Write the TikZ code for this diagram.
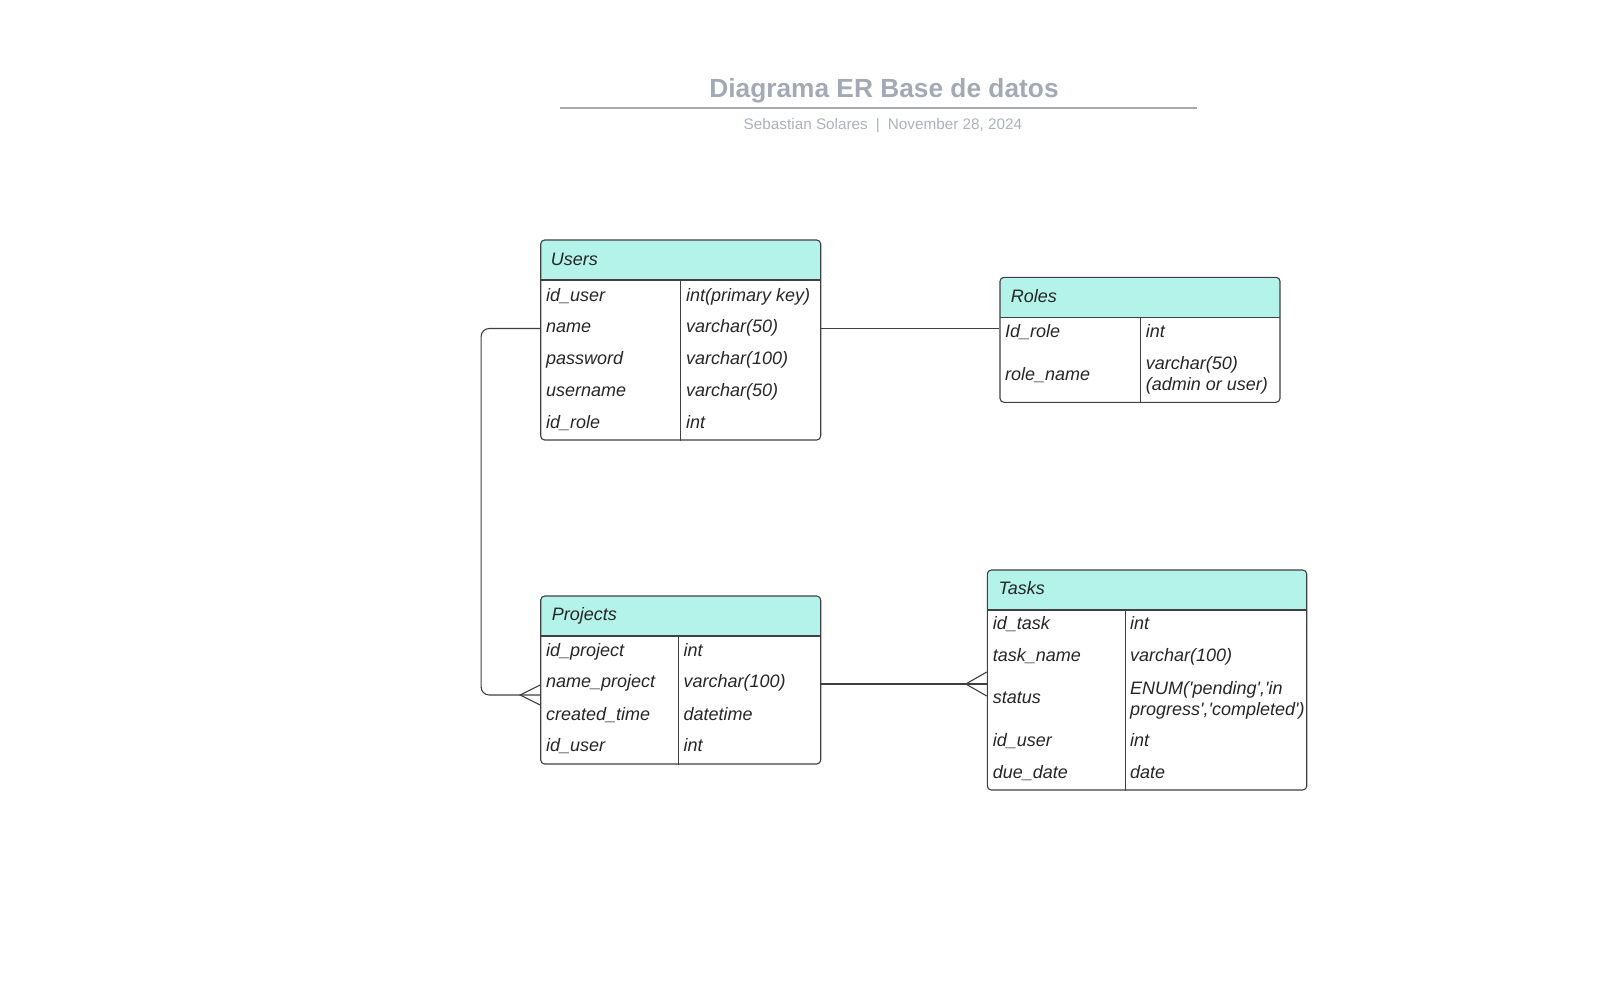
\documentclass[tikz,border=0pt]{standalone}
\usepackage{fontspec}
\setmainfont{Liberation Sans}
\newcommand{\apos}{\textquotesingle}
\definecolor{menta}{RGB}{180,243,234}
\definecolor{borde}{RGB}{64,64,64}
\definecolor{gristitulo}{RGB}{163,170,181}
\definecolor{texto}{RGB}{38,38,38}

\begin{document}
\begin{tikzpicture}[x=1pt, y=-1pt,
    tabla/.style={draw=borde, line width=1.1pt, rounded corners=4pt, inner sep=0pt,
      path picture={
        \fill[menta, sharp corners] (path picture bounding box.north west) rectangle ([yshift=-40pt]path picture bounding box.north east);
        \draw[borde, line width=1.1pt, sharp corners] ([yshift=-40pt]path picture bounding box.north west) -- ([yshift=-40pt]path picture bounding box.north east);}},
    letra/.style={inner sep=0pt, text=texto, align=left, font=\fontsize{18}{21.3}\selectfont\itshape},
    campo/.style={letra, anchor=mid west, yshift=-3.5pt},
    campo2/.style={letra, anchor=west},
    conector/.style={draw=borde, line width=1.1pt}]

  \useasboundingbox (0,0) rectangle (1622,1002);

  % Titulo
  \node[anchor=base, text=gristitulo, font=\fontsize{26.3}{30}\selectfont\bfseries] (titulo) at (884,97.5) {Diagrama ER Base de datos};
  \draw[gristitulo, line width=2pt] (560,108.3) -- (1196.7,108.3);
  \node[anchor=base, text=gristitulo!90!white, font=\fontsize{15.3}{18}\selectfont] (autor) at (883,129.5) {Sebastian Solares\hspace{8pt}|\hspace{8pt}November 28, 2024};

  % Tablas
  \node[tabla, minimum width=280pt, minimum height=200pt] (users) at (680.7,340) {};
  \node[tabla, minimum width=280pt, minimum height=125pt] (roles) at (1140,339.8) {};
  \node[tabla, minimum width=280pt, minimum height=168pt] (projects) at (680.7,680) {};
  \node[tabla, minimum width=319.4pt, minimum height=220pt] (tasks) at (1147,680) {};

  % Columnas
  \draw[conector] ([xshift=140pt,yshift=-40pt]users.north west) -- ([xshift=140pt]users.south west);
  \draw[conector] ([xshift=140.7pt,yshift=-40pt]roles.north west) -- ([xshift=140.7pt]roles.south west);
  \draw[conector] ([xshift=138pt,yshift=-40pt]projects.north west) -- ([xshift=138pt]projects.south west);
  \draw[conector] ([xshift=138.4pt,yshift=-40pt]tasks.north west) -- ([xshift=138.4pt]tasks.south west);

  % Users
  \node[campo] (uh) at (550.7,259) {Users};
  \node[campo] (u1) at (546,295) {id\_user};
  \node[campo] (u1t) at (686,295) {int(primary key)};
  \node[campo] (u2) at (546,326.7) {name};
  \node[campo] (u2t) at (686,326.7) {varchar(50)};
  \node[campo] (u3) at (546,358.3) {password};
  \node[campo] (u3t) at (686,358.3) {varchar(100)};
  \node[campo] (u4) at (546,390) {username};
  \node[campo] (u4t) at (686,390) {varchar(50)};
  \node[campo] (u5) at (546,422) {id\_role};
  \node[campo] (u5t) at (686,422) {int};

  % Roles
  \node[campo] (rh) at (1010.7,296) {Roles};
  \node[campo] (r1) at (1005,331.7) {Id\_role};
  \node[campo] (r1t) at (1145.7,331.7) {int};
  \node[campo] (r2) at (1005,374) {role\_name};
  \node[campo2] (r2t) at (1145.7,375.5) {varchar(50)\\(admin or user)};

  % Projects
  \node[campo] (ph) at (551.7,614.5) {Projects};
  \node[campo] (p1) at (546,650) {id\_project};
  \node[campo] (p1t) at (683.3,650) {int};
  \node[campo] (p2) at (546,681.7) {name\_project};
  \node[campo] (p2t) at (683.3,681.7) {varchar(100)};
  \node[campo] (p3) at (546,714) {created\_time};
  \node[campo] (p3t) at (683.3,714) {datetime};
  \node[campo] (p4) at (546,745.7) {id\_user};
  \node[campo] (p4t) at (683.3,745.7) {int};

  % Tasks
  \node[campo] (th) at (998.3,588) {Tasks};
  \node[campo] (t1) at (992.7,623.3) {id\_task};
  \node[campo] (t1t) at (1130,623.3) {int};
  \node[campo] (t2) at (992.7,655.7) {task\_name};
  \node[campo] (t2t) at (1130,655.7) {varchar(100)};
  \node[campo] (t3) at (992.7,697.7) {status};
  \node[campo2] (t3t) at (1130,700.5) {ENUM(\apos pending\apos,\apos in\\progress\apos,\apos completed\apos)};
  \node[campo] (t4) at (992.7,740.7) {id\_user};
  \node[campo] (t4t) at (1130,740.7) {int};
  \node[campo] (t5) at (992.7,772.3) {due\_date};
  \node[campo] (t5t) at (1130,772.3) {date};

  % Relaciones
  \draw[conector] ([yshift=11.5pt]users.east) -- ([yshift=11.5pt]users.east -| roles.west);
  \draw[conector, rounded corners=8pt] ([yshift=11.5pt]users.west) -- ++(-59,0) |- ([yshift=-15pt]projects.west);
  \draw[conector] ([yshift=-5pt]projects.west) -- ([xshift=-20pt,yshift=-15pt]projects.west) -- ([yshift=-25pt]projects.west); % muchos
  \draw[conector] ([yshift=-4pt]projects.east) -- ([yshift=-4pt]tasks.west);
  \draw[conector] ([yshift=8pt]tasks.west) -- ([xshift=-21pt,yshift=-4pt]tasks.west) -- ([yshift=-16pt]tasks.west); % muchos

\end{tikzpicture}
\end{document}
